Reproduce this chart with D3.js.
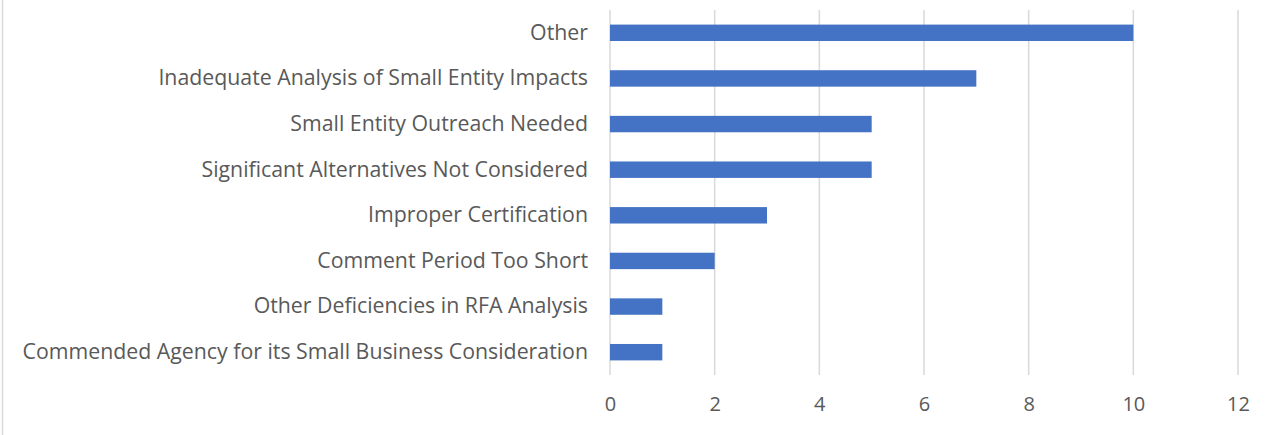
<!DOCTYPE html>
<html><head><meta charset="utf-8">
<script src="https://cdn.jsdelivr.net/npm/d3@7"></script>
<style>body{margin:0;background:#fff}svg{display:block}text{font-family:"Open Sans","Noto Sans",sans-serif;fill:#595959}</style>
</head><body><svg id="c" width="1276" height="435"></svg>
<script>
const categories = ["Other","Inadequate Analysis of Small Entity Impacts","Small Entity Outreach Needed","Significant Alternatives Not Considered","Improper Certification","Comment Period Too Short","Other Deficiencies in RFA Analysis","Commended Agency for its Small Business Consideration"];
const values = [10,7,5,5,3,2,1,1];
const xTicks = [0,2,4,6,8,10,12];

(function(){
const svg = d3.select("#c");
const mL = 610, mR = 1238, mT = 10, mB = 375;
const x = d3.scaleLinear().domain([0,12]).range([mL,mR]);
const y = d3.scaleBand().domain(categories).range([mT,mB]).paddingInner(0.64).paddingOuter(0.32);

svg.append("line").attr("x1",2.5).attr("x2",2.5).attr("y1",0).attr("y2",435).attr("stroke","#d9d9d9").attr("stroke-width",1.5);

svg.append("g").selectAll("line").data(xTicks).join("line")
  .attr("x1",d=>x(d)).attr("x2",d=>x(d)).attr("y1",mT).attr("y2",mB)
  .attr("stroke","#d9d9d9").attr("stroke-width",1.5);

svg.append("g").selectAll("rect").data(values).join("rect")
  .attr("x",x(0)).attr("y",(d,i)=>y(categories[i]))
  .attr("width",d=>x(d)-x(0)).attr("height",y.bandwidth())
  .attr("fill","#4472c4");

const ya = d3.axisLeft(y).tickSize(0).tickPadding(22);
const gy = svg.append("g").attr("transform",`translate(${mL},0)`).call(ya);
gy.select(".domain").remove();
gy.selectAll("text").style("font-size","20px").attr("fill","#595959");
// fit longest label to reference width
let maxW = 0;
gy.selectAll("text").each(function(){ maxW = Math.max(maxW, this.getComputedTextLength()); });
const fs = Math.max(17, Math.min(23, 20 * 566 / maxW));
gy.selectAll("text").style("font-size", fs + "px");

const xa = d3.axisBottom(x).tickValues(xTicks).tickSize(0).tickPadding(0);
const gx = svg.append("g").attr("transform",`translate(0,${mB+22})`).call(xa);
gx.select(".domain").remove();
gx.selectAll("text").style("font-size","20px").attr("fill","#595959");
})();
</script></body></html>
